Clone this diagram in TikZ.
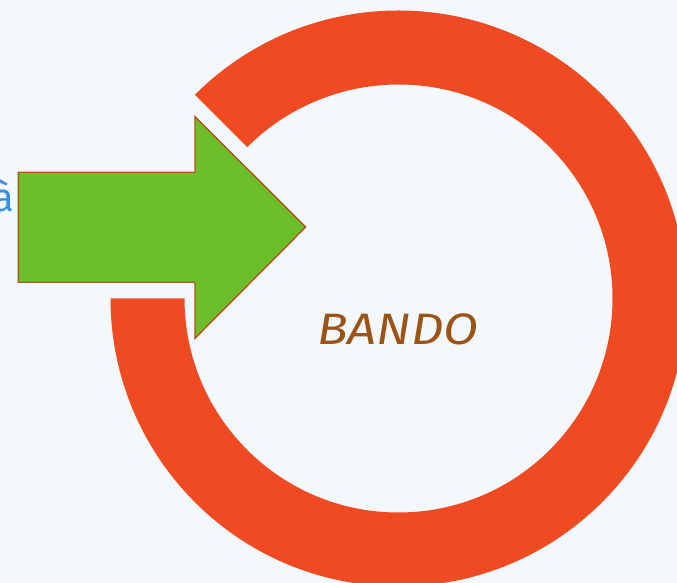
\documentclass[tikz,border=0pt]{standalone}
\usepackage{fontspec}
\usetikzlibrary{calc}
\newfontfamily\handfont{Fira Sans}
\definecolor{bgc}{HTML}{F3F8FC}
\definecolor{ringc}{HTML}{F04A22}
\definecolor{arrowc}{HTML}{6DBF2A}
\definecolor{arrowline}{HTML}{B0561A}
\definecolor{textc}{HTML}{9C5416}
\definecolor{bluec}{HTML}{3D8FE0}
\begin{document}
\begin{tikzpicture}[x=1pt,y=1pt,
  ringstyle/.style={fill=ringc,draw=none},
  arrowstyle/.style={fill=arrowc,draw=arrowline,line width=1.4pt,line join=miter},
  labelstyle/.style={font=\handfont\itshape\fontsize{44}{48}\selectfont,text=textc,inner sep=0pt,xscale=1.16}]
\fill[bgc] (0,0) rectangle (677,583);
\useasboundingbox (0,0) rectangle (677,583);
\coordinate (c) at (398.5,284.5);
% ring
\path[ringstyle] ($(c)+(135:288)$) arc[start angle=135,end angle=-180,radius=288]
  -- ($(c)+(180:214)$) arc[start angle=-180,end angle=135,radius=214] -- cycle;
% arrow
\draw[arrowstyle] (18.3,410.7) -- (195,410.7) -- (195,466.3) -- (305.7,356)
  -- (195,244.7) -- (195,300.7) -- (18.3,300.7) -- cycle;
% texts
\node[labelstyle,anchor=base] (bando) at (398,238) {BANDO};
\node[font=\handfont\fontsize{40}{44}\selectfont,text=bluec,inner sep=0pt,anchor=base east] (a) at (14,371) {à};
\end{tikzpicture}
\end{document}
